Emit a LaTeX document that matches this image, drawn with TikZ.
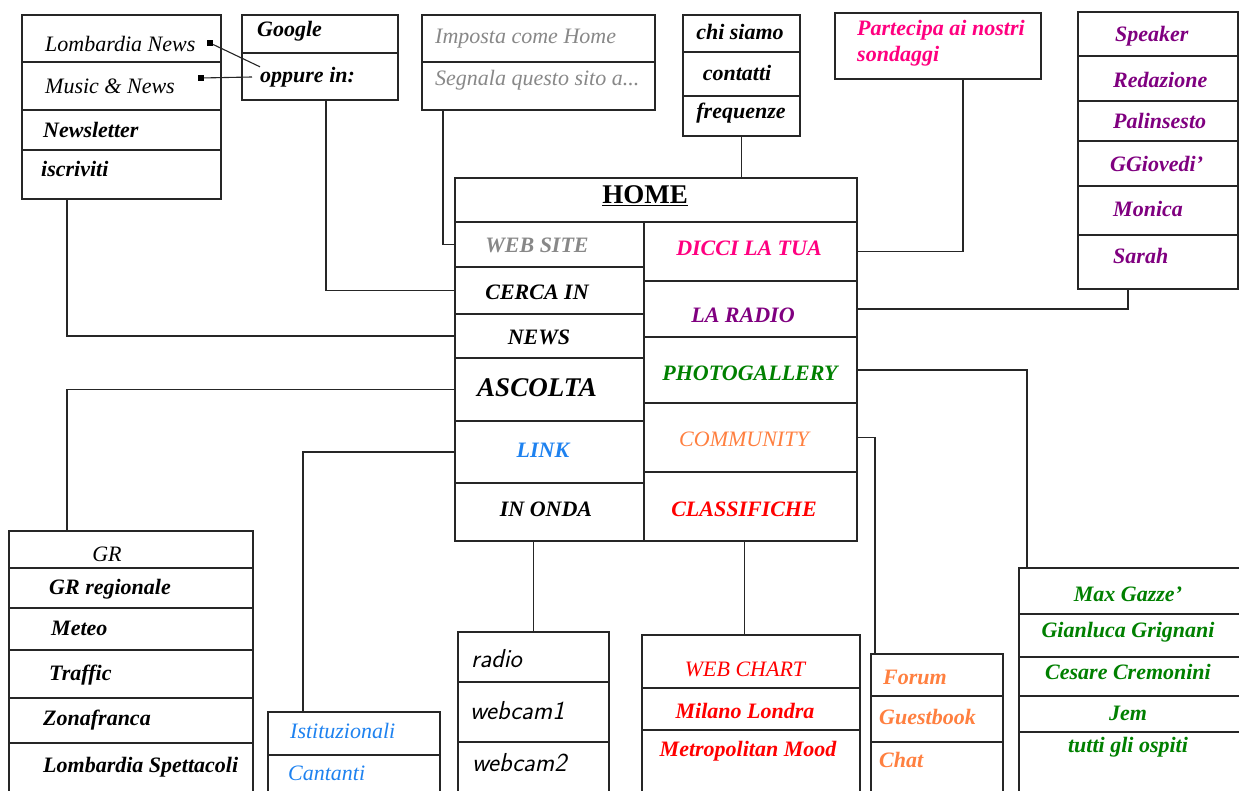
\documentclass[tikz,border=0pt]{standalone}
\usepackage{fontspec}
\setmainfont{Liberation Serif}
\usetikzlibrary{
    calc,
    positioning
}
\definecolor{siteGrey}{RGB}{136,136,136}
\definecolor{dicciPink}{RGB}{255,0,128}
\definecolor{radioPurple}{RGB}{128,0,128}
\definecolor{photoGreen}{RGB}{0,128,0}
\definecolor{commOrange}{RGB}{255,128,64}
\definecolor{linkBlue}{RGB}{30,130,240}
\definecolor{chartRed}{RGB}{255,0,0}
\tikzset{
    >=latex,
    % Boxes and their rows
    cell/.style={
        draw=black!85,
        line width=1.1pt,
        anchor=north west,
        inner sep=0pt,
        outer sep=0pt
    },
    squareDot/.style={
        fill=black,
        minimum size=6pt,
        inner sep=0pt
    },
    wire/.style={
        draw=black!85,
        line width=1.1pt
    },
    % Texts
    entry/.style={
        font=\fontsize{22}{26}\selectfont\bfseries\itshape,
        inner sep=0pt,
        anchor=west
    },
    entryLight/.style={
        entry,
        font=\fontsize{22}{26}\selectfont\itshape
    },
    entryMid/.style={
        entry,
        anchor=center
    },
    menu/.style={
        font=\fontsize{22}{26}\selectfont\bfseries\itshape,
        inner sep=0pt
    },
    camText/.style={
        font=\fontsize{26}{30}\selectfont\sffamily\itshape,
        inner sep=0pt,
        anchor=west
    }
}

\begin{document}
\begin{tikzpicture}[x=1pt,y=-1pt]

    \useasboundingbox (0,0) rectangle (1239,791);
    \fill[white] (0,0) rectangle (1239,791);
    \clip (0,0) rectangle (1239,791);

    % Newsletter box
    \node[cell, minimum width=199pt, minimum height=47pt] (lomb1) at (22,15) {};
    \node[cell, minimum width=199pt, minimum height=48pt] (lomb2) at (22,62) {};
    \node[cell, minimum width=199pt, minimum height=40pt] (lomb3) at (22,110) {};
    \node[cell, minimum width=199pt, minimum height=49pt] (lomb4) at (22,150) {};
    \node[entryLight] (tLomb1) at (45,44) {Lombardia News};
    \node[entryLight] (tLomb2) at (45,86) {Music \& News};
    \node[entry] (tLomb3) at (43,130) {Newsletter};
    \node[entry] (tLomb4) at (41,169) {iscriviti};
    \node[squareDot] (sqLomb) at (210,43) {};
    \node[squareDot] (sqMusic) at (201,78) {};

    % Search box
    \node[cell, minimum width=156pt, minimum height=38pt] (goog1) at (242,15) {};
    \node[cell, minimum width=156pt, minimum height=47pt] (goog2) at (242,53) {};
    \node[entry] (tGoog) at (257,31) {Google};
    \node[entry] (oppure) at (260,77) {oppure in:};

    % Web site box
    \node[cell, minimum width=233pt, minimum height=47pt] (imp1) at (422,15) {};
    \node[cell, minimum width=233pt, minimum height=48pt] (imp2) at (422,62) {};
    \node[entryLight, text=siteGrey] (tImp1) at (435,39) {Imposta come Home};
    \node[entryLight, text=siteGrey] (tImp2) at (435,80) {Segnala questo sito a...};

    % About box
    \node[cell, minimum width=117pt, minimum height=37pt] (chi1) at (683,15) {};
    \node[cell, minimum width=117pt, minimum height=44pt] (chi2) at (683,52) {};
    \node[cell, minimum width=117pt, minimum height=40pt] (chi3) at (683,96) {};
    \node[entryMid] (tChi1) at (740,32) {chi siamo};
    \node[entryMid] (tChi2) at (737,73) {contatti};
    \node[entryMid] (tChi3) at (741,113) {frequenze};

    % Polls box
    \node[cell, minimum width=206pt, minimum height=66pt] (part) at (835,13) {};
    \node[entry, text=dicciPink, align=left] (tPart) at (857,43) {Partecipa ai nostri\\sondaggi};

    % Radio staff box
    \node[cell, minimum width=160pt, minimum height=44pt] (spk1) at (1078,12) {};
    \node[cell, minimum width=160pt, minimum height=45pt] (spk2) at (1078,56) {};
    \node[cell, minimum width=160pt, minimum height=40pt] (spk3) at (1078,101) {};
    \node[cell, minimum width=160pt, minimum height=45pt] (spk4) at (1078,141) {};
    \node[cell, minimum width=160pt, minimum height=49pt] (spk5) at (1078,186) {};
    \node[cell, minimum width=160pt, minimum height=54pt] (spk6) at (1078,235) {};
    \node[entry, text=radioPurple] (tSpk1) at (1115,36) {Speaker};
    \node[entry, text=radioPurple] (tSpk2) at (1113,80) {Redazione};
    \node[entry, text=radioPurple] (tSpk3) at (1113,121) {Palinsesto};
    \node[entry, text=radioPurple] (tSpk4) at (1110,164) {GGiovedi'};
    \node[entry, text=radioPurple] (tSpk5) at (1113,209) {Monica};
    \node[entry, text=radioPurple] (tSpk6) at (1113,256) {Sarah};

    % Home
    \node[cell, minimum width=402pt, minimum height=44pt] (home) at (455,178) {};
    \node[font=\fontsize{27}{30}\selectfont\bfseries, inner sep=0pt] (tHome) at (645,196) {\underline{HOME}};
    \node[cell, minimum width=189pt, minimum height=45pt] (webSite) at (455,222) {};
    \node[cell, minimum width=189pt, minimum height=47pt] (cercaIn) at (455,267) {};
    \node[cell, minimum width=189pt, minimum height=44pt] (newsCell) at (455,314) {};
    \node[cell, minimum width=189pt, minimum height=63pt] (ascolta) at (455,358) {};
    \node[cell, minimum width=189pt, minimum height=62pt] (linkCell) at (455,421) {};
    \node[cell, minimum width=189pt, minimum height=58pt] (inOnda) at (455,483) {};
    \node[cell, minimum width=213pt, minimum height=59pt] (dicci) at (644,222) {};
    \node[cell, minimum width=213pt, minimum height=56pt] (laRadio) at (644,281) {};
    \node[cell, minimum width=213pt, minimum height=66pt] (photo) at (644,337) {};
    \node[cell, minimum width=213pt, minimum height=69pt] (community) at (644,403) {};
    \node[cell, minimum width=213pt, minimum height=69pt] (classif) at (644,472) {};
    \node[menu, text=siteGrey] (tWeb) at (537,245) {WEB SITE};
    \node[menu] (tCerca) at (537,292) {CERCA IN};
    \node[menu] (tNews) at (539,337) {NEWS};
    \node[menu, font=\fontsize{27}{30}\selectfont\bfseries\itshape] (tAscolta) at (537,388) {ASCOLTA};
    \node[menu, text=linkBlue] (tLink) at (543,450) {LINK};
    \node[menu] (tOnda) at (546,509) {IN ONDA};
    \node[menu, text=dicciPink] (tDicci) at (749,248) {DICCI LA TUA};
    \node[menu, text=radioPurple] (tRadio) at (743,315) {LA RADIO};
    \node[menu, text=photoGreen] (tPhoto) at (750,373) {PHOTOGALLERY};
    \node[menu, text=commOrange, font=\fontsize{22}{26}\selectfont\itshape] (tComm) at (744,439) {COMMUNITY};
    \node[menu, text=chartRed] (tClass) at (744,509) {CLASSIFICHE};

    % News box
    \node[cell, minimum width=244pt, minimum height=37pt] (gr1) at (9,531) {};
    \node[cell, minimum width=244pt, minimum height=40pt] (gr2) at (9,568) {};
    \node[cell, minimum width=244pt, minimum height=42pt] (gr3) at (9,608) {};
    \node[cell, minimum width=244pt, minimum height=48pt] (gr4) at (9,650) {};
    \node[cell, minimum width=244pt, minimum height=45pt] (gr5) at (9,698) {};
    \node[cell, minimum width=244pt, minimum height=60pt] (gr6) at (9,743) {};
    \node[entryLight, anchor=center] (tGr1) at (107,554) {GR};
    \node[entry] (tGr2) at (49,589) {GR regionale};
    \node[entry] (tGr3) at (51,628) {Meteo};
    \node[entry] (tGr4) at (49,675) {Traffic};
    \node[entry] (tGr5) at (43,720) {Zonafranca};
    \node[entry] (tGr6) at (43,767) {Lombardia Spettacoli};

    % Links box
    \node[cell, minimum width=172pt, minimum height=43pt] (ist1) at (268,712) {};
    \node[cell, minimum width=172pt, minimum height=50pt] (ist2) at (268,755) {};
    \node[entryLight, text=linkBlue] (tIst1) at (290,731) {Istituzionali};
    \node[entryLight, text=linkBlue] (tIst2) at (288,773) {Cantanti};

    % On air box
    \node[cell, minimum width=151pt, minimum height=50pt] (radio1) at (458,632) {};
    \node[cell, minimum width=151pt, minimum height=60pt] (radio2) at (458,682) {};
    \node[cell, minimum width=151pt, minimum height=60pt] (radio3) at (458,742) {};
    \node[camText] (tRadio1) at (471,659) {radio};
    \node[camText] (tRadio2) at (470,711) {webcam1};
    \node[camText] (tRadio3) at (472,763) {webcam2};

    % Charts box
    \node[cell, minimum width=218pt, minimum height=53pt] (chart1) at (642,635) {};
    \node[cell, minimum width=218pt, minimum height=42pt] (chart2) at (642,688) {};
    \node[cell, minimum width=218pt, minimum height=70pt] (chart3) at (642,730) {};
    \node[entryLight, anchor=center, text=chartRed] (tChart1) at (745,669) {WEB CHART};
    \node[entryMid, text=chartRed] (tChart2) at (745,711) {Milano Londra};
    \node[entryMid, text=chartRed] (tChart3) at (748,751) {Metropolitan Mood};

    % Community box
    \node[cell, minimum width=132pt, minimum height=42pt] (forum1) at (871,654) {};
    \node[cell, minimum width=132pt, minimum height=46pt] (forum2) at (871,696) {};
    \node[cell, minimum width=132pt, minimum height=60pt] (forum3) at (871,742) {};
    \node[entry, text=commOrange] (tForum1) at (883,677) {Forum};
    \node[entry, text=commOrange] (tForum2) at (879,717) {Guestbook};
    \node[entry, text=commOrange] (tForum3) at (879,760) {Chat};

    % Gallery box
    \node[cell, minimum width=226pt, minimum height=46pt] (max1) at (1019,568) {};
    \node[cell, minimum width=226pt, minimum height=43pt] (max2) at (1019,614) {};
    \node[cell, minimum width=226pt, minimum height=39pt] (max3) at (1019,657) {};
    \node[cell, minimum width=226pt, minimum height=36pt] (max4) at (1019,696) {};
    \node[cell, minimum width=226pt, minimum height=70pt] (max5) at (1019,732) {};
    \node[entryMid, text=photoGreen] (tMax1) at (1128,594) {Max Gazze'};
    \node[entryMid, text=photoGreen] (tMax2) at (1128,632) {Gianluca Grignani};
    \node[entryMid, text=photoGreen] (tMax3) at (1128,672) {Cesare Cremonini};
    \node[entryMid, text=photoGreen] (tMax4) at (1128,713) {Jem};
    \node[entryMid, text=photoGreen] (tMax5) at (1128,747) {tutti gli ospiti};

    % Connectors
    \draw[wire] (sqLomb) -- (oppure.north west);
    \draw[wire] (sqMusic) -- ([xshift=-8pt]oppure.west);
    \draw[wire] (chi3.south) -- (chi3.south |- home.north);
    \draw[wire] ([xshift=21pt]imp2.south west) |- (webSite.west);
    \draw[wire] ([xshift=84pt]goog2.south west) |- (cercaIn.west);
    \draw[wire] ([xshift=45pt]lomb4.south west) |- (newsCell.west);
    \draw[wire] ([xshift=128pt]part.south west) |- (dicci.east);
    \draw[wire] ([xshift=50pt]spk6.south west) |- (laRadio.east);
    \draw[wire] (ascolta.west) -| ([xshift=58pt]gr1.north west);
    \draw[wire] (linkCell.west) -| ([xshift=35pt]ist1.north west);
    \draw[wire] (radio1.north |- inOnda.south) -- (radio1.north);
    \draw[wire] ([xshift=-6pt]classif.south) -- ([xshift=-6pt]classif.south |- chart1.north);
    \draw[wire] (community.east) -| ([xshift=4pt]forum1.north west);
    \draw[wire] (photo.east) -| ([xshift=8pt]max1.north west);

\end{tikzpicture}
\end{document}
